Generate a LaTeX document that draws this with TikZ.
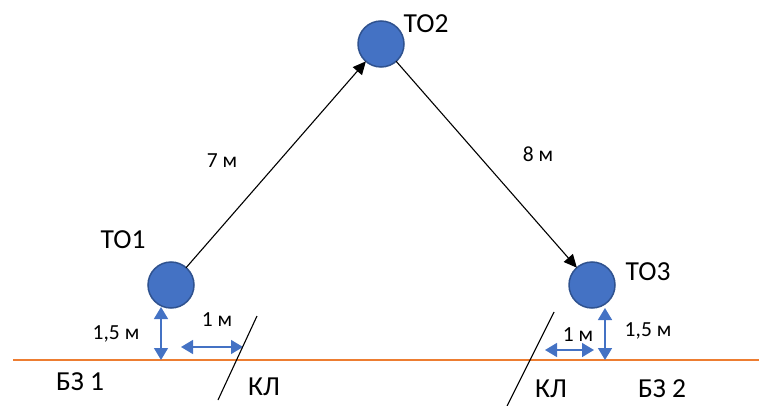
\documentclass[tikz,border=0pt]{standalone}
\usepackage{fontspec}
\setmainfont{Carlito}
\usetikzlibrary{arrows.meta}
\definecolor{cfill}{HTML}{4472C4}
\definecolor{cdraw}{HTML}{2F528F}
\definecolor{corange}{HTML}{ED7D31}
\begin{document}
\begin{tikzpicture}[x=1pt,y=-1pt,
  tonode/.style={circle,fill=cfill,draw=cdraw,line width=1.5pt,minimum size=46pt,inner sep=0pt,outer sep=0pt},
  biglbl/.style={font=\fontsize{27.5}{32}\selectfont,inner sep=0pt,text height=17.5pt,text depth=0pt},
  measlbl/.style={font=\fontsize{21.5}{25}\selectfont,inner sep=0pt,text height=13.6pt,text depth=0pt},
  blackarrow/.style={-{Triangle[length=13pt,width=12pt]},line width=1.1pt,black},
  bluearrow/.style={{Triangle[length=12pt,width=14pt]}-{Triangle[length=12pt,width=14pt]},line width=1.5pt,cfill},
  cable/.style={line width=1.1pt,black}]
\useasboundingbox (0,0) rectangle (759,406);
% circles
\node[tonode] (to1) at (171,285) {};
\node[tonode] (to2) at (381,44) {};
\node[tonode] (to3) at (592,285) {};
% ground line
\coordinate (g0) at (13,360);
\coordinate (g1) at (759,360);
\draw[corange,line width=1.5pt] (g0) -- (g1);
% black arrows
\draw[blackarrow] (to1) -- (to2);
\draw[blackarrow] (to2) -- (to3);
% labels
\node[biglbl] (l1) at (123,240) {ТО1};
\node[biglbl] (l2) at (426,24) {ТО2};
\node[biglbl] (l3) at (648,272) {ТО3};
\node[measlbl] (d7) at (222,161) {7 м};
\node[measlbl] (d8) at (538,155) {8 м};
\node[biglbl] (b1) at (80,382) {БЗ 1};
\node[biglbl] (b2) at (662,389) {БЗ 2};
\node[biglbl] (k1) at (264,387) {КЛ};
\node[biglbl] (k2) at (551,389) {КЛ};
\node[measlbl] (h1) at (116,333) {1,5 м};
\node[measlbl] (h3) at (648,330) {1,5 м};
\node[measlbl] (m1) at (217,320) {1 м};
\node[measlbl] (m3) at (578,335) {1 м};
% blue arrows
\coordinate (v1a) at (161,307);
\coordinate (v1b) at (161,360);
\draw[bluearrow] (v1a) -- (v1b);
\coordinate (v3a) at (605,308);
\coordinate (v3b) at (605,360);
\draw[bluearrow] (v3a) -- (v3b);
\coordinate (hh1a) at (181,347);
\coordinate (hh1b) at (243,347);
\draw[bluearrow] (hh1a) -- (hh1b);
\coordinate (hh3a) at (545,350);
\coordinate (hh3b) at (594,350);
\draw[bluearrow] (hh3a) -- (hh3b);
% cable slashes
\coordinate (c1a) at (257,316);
\coordinate (c1b) at (218,400);
\draw[cable] (c1a) -- (c1b);
\coordinate (c3a) at (554,312);
\coordinate (c3b) at (507,406);
\draw[cable] (c3a) -- (c3b);
\end{tikzpicture}
\end{document}
